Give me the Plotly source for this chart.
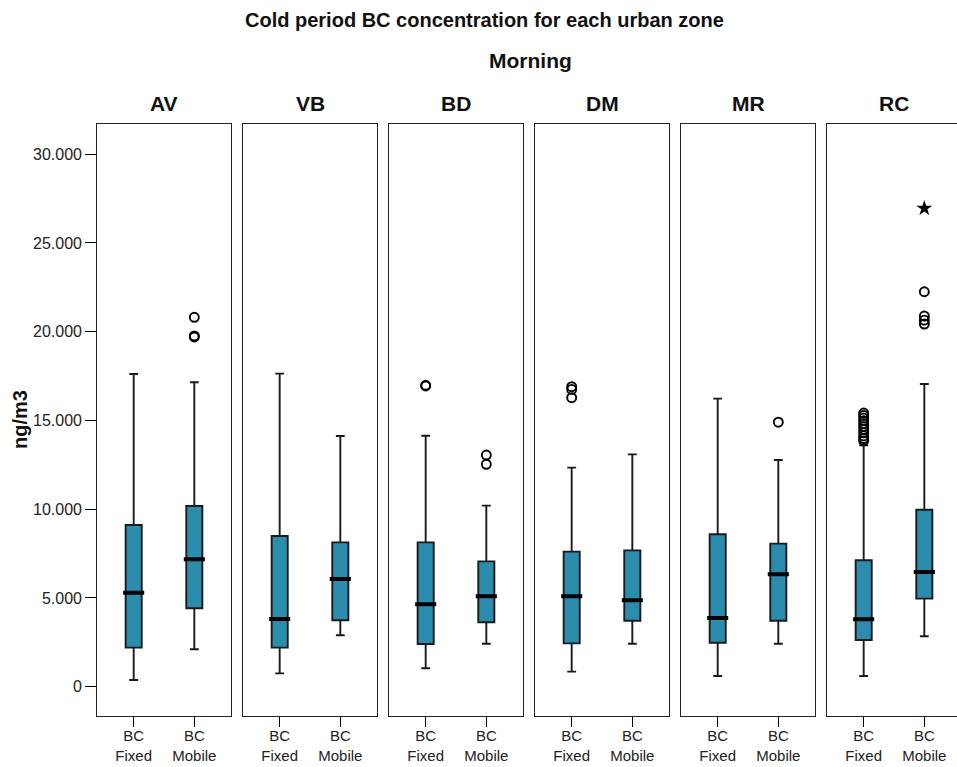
import plotly.graph_objects as go

# ---------------- data (ng/m3) ----------------
zones = ["AV", "VB", "BD", "DM", "MR", "RC"]
series = ["BC<br>Fixed", "BC<br>Mobile"]

fixed_lower = [380, 750, 1040, 850, 600, 600]
fixed_q1 = [2200, 2200, 2410, 2440, 2480, 2630]
fixed_median = [5300, 3810, 4640, 5090, 3870, 3800]
fixed_q3 = [9110, 8490, 8130, 7610, 8590, 7120]
fixed_upper = [17620, 17640, 14140, 12340, 16230, 13600]

mobile_lower = [2110, 2900, 2420, 2420, 2420, 2840]
mobile_q1 = [4420, 3740, 3630, 3720, 3720, 4960]
mobile_median = [7180, 6070, 5090, 4870, 6330, 6460]
mobile_q3 = [10180, 8130, 7060, 7680, 8060, 9970]
mobile_upper = [17150, 14120, 10200, 13090, 12770, 17050]

# outliers (circles) per zone
fixed_outliers = [
    [],
    [],
    [16940, 16980],
    [16900, 16750, 16280],
    [],
    [15420, 15280, 15130, 14980, 14820, 14650, 14480, 14300, 14130, 13980, 13850],
]
mobile_outliers = [
    [20810, 19700, 19760],
    [],
    [13050, 12530],
    [],
    [14900],
    [22250, 20880, 20650, 20430],
]
# extreme values (stars) per zone
mobile_extremes = [[], [], [], [], [], [26950]]

y_tickvals = [0, 5000, 10000, 15000, 20000, 25000, 30000]
y_ticktext = ["0", "5.000", "10.000", "15.000", "20.000", "25.000", "30.000"]

title_text = "Cold period BC concentration for each urban zone"
subtitle_text = "Morning"
y_title = "ng/m3"

# ---------------- styling ----------------
W, H = 957, 767
FONT = "Liberation Sans, Arial, sans-serif"
BOX_FILL = "#2b8cae"
BOX_LINE = "#1a1a1a"
BOX_W = 0.265
PANEL_L0 = 97.3
PANEL_W = 133.4
PANEL_STEP = 146.0
PLOT_TOP = 124.0
PLOT_BOT = 716.0
X_RANGE = [-0.6, 1.6]
Y_RANGE = [-1650, 31700]
px_per_unit = PANEL_W / (X_RANGE[1] - X_RANGE[0])

fig = go.Figure()
layout = dict(
    width=W, height=H,
    margin=dict(l=0, r=0, t=0, b=0, pad=0),
    paper_bgcolor="white", plot_bgcolor="white",
    showlegend=False,
    font=dict(family=FONT, color="black", size=16),
    annotations=[],
)

ydom = [1 - PLOT_BOT / H, 1 - PLOT_TOP / H]

for i, z in enumerate(zones):
    n = "" if i == 0 else str(i + 1)
    xa, ya = "x" + n, "y" + n
    left = PANEL_L0 + PANEL_STEP * i
    right = min(left + PANEL_W, W)
    xr = [X_RANGE[0], X_RANGE[0] + (right - left) / px_per_unit]
    last = i == len(zones) - 1

    layout["xaxis" + n] = dict(
        domain=[left / W, right / W], range=xr, anchor=ya, automargin=False,
        tickmode="array", tickvals=[0, 1], ticktext=series,
        ticks="outside", ticklen=10, tickwidth=1.4, tickcolor="black",
        ticklabelstandoff=-4,
        showline=True, mirror=True, linecolor="#222", linewidth=1.3,
        showgrid=False, zeroline=False, fixedrange=True,
        tickfont=dict(size=15, family=FONT, color="#222"),
    )
    ydict = dict(
        domain=ydom, range=Y_RANGE, anchor=xa, automargin=False,
        showline=True, mirror=(not last), linecolor="#222", linewidth=1.3,
        showgrid=False, zeroline=False, fixedrange=True,
    )
    if i == 0:
        ydict.update(tickmode="array", tickvals=y_tickvals, ticktext=y_ticktext,
                     ticks="outside", ticklen=11, tickwidth=1.4, tickcolor="black",
                     tickfont=dict(size=16, family=FONT, color="#222"))
    else:
        ydict.update(matches="y", showticklabels=False, ticks="")
    layout["yaxis" + n] = ydict

    # boxes
    fig.add_trace(go.Box(
        x=[0, 1],
        q1=[fixed_q1[i], mobile_q1[i]],
        median=[fixed_median[i], mobile_median[i]],
        q3=[fixed_q3[i], mobile_q3[i]],
        lowerfence=[fixed_lower[i], mobile_lower[i]],
        upperfence=[fixed_upper[i], mobile_upper[i]],
        width=BOX_W, whiskerwidth=0.55,
        fillcolor=BOX_FILL, line=dict(color=BOX_LINE, width=1.9),
        boxpoints=False, xaxis=xa, yaxis=ya, hoverinfo="skip",
    ))
    # thick median bars
    fig.add_trace(go.Scatter(
        x=[0, 1], y=[fixed_median[i], mobile_median[i]], mode="markers",
        marker=dict(symbol="line-ew", size=BOX_W * px_per_unit - 1,
                    line=dict(color="black", width=4)),
        xaxis=xa, yaxis=ya, hoverinfo="skip",
    ))
    # outliers
    ox = [0] * len(fixed_outliers[i]) + [1] * len(mobile_outliers[i])
    oy = fixed_outliers[i] + mobile_outliers[i]
    if oy:
        fig.add_trace(go.Scatter(
            x=ox, y=oy, mode="markers",
            marker=dict(symbol="circle-open", size=9, color="black",
                        line=dict(color="black", width=1.9)),
            xaxis=xa, yaxis=ya, hoverinfo="skip",
        ))
    if mobile_extremes[i]:
        fig.add_trace(go.Scatter(
            x=[1] * len(mobile_extremes[i]), y=mobile_extremes[i], mode="markers",
            marker=dict(symbol="star", size=12, color="black",
                        line=dict(width=0)),
            xaxis=xa, yaxis=ya, hoverinfo="skip",
        ))

    # panel title
    layout["annotations"].append(dict(
        text="<b>" + z + "</b>", x=(left + PANEL_W / 2) / W, y=1 - 104 / H,
        xref="paper", yref="paper", xanchor="center", yanchor="middle",
        showarrow=False, font=dict(size=21, family=FONT, color="#111"),
    ))

layout["annotations"] += [
    dict(text="<b>" + title_text + "</b>", x=484 / W, y=1 - 20 / H,
         xref="paper", yref="paper", xanchor="center", yanchor="middle",
         showarrow=False, font=dict(size=20, family=FONT, color="#111")),
    dict(text="<b>" + subtitle_text + "</b>", x=530 / W, y=1 - 60 / H,
         xref="paper", yref="paper", xanchor="center", yanchor="middle",
         showarrow=False, font=dict(size=21, family=FONT, color="#111")),
    dict(text="<b>" + y_title + "</b>", x=20 / W, y=1 - 420 / H,
         xref="paper", yref="paper", xanchor="center", yanchor="middle",
         textangle=-90, showarrow=False,
         font=dict(size=20, family=FONT, color="#111")),
]

fig.update_layout(**layout)
fig.write_html("out.html", config={"displayModeBar": False})
